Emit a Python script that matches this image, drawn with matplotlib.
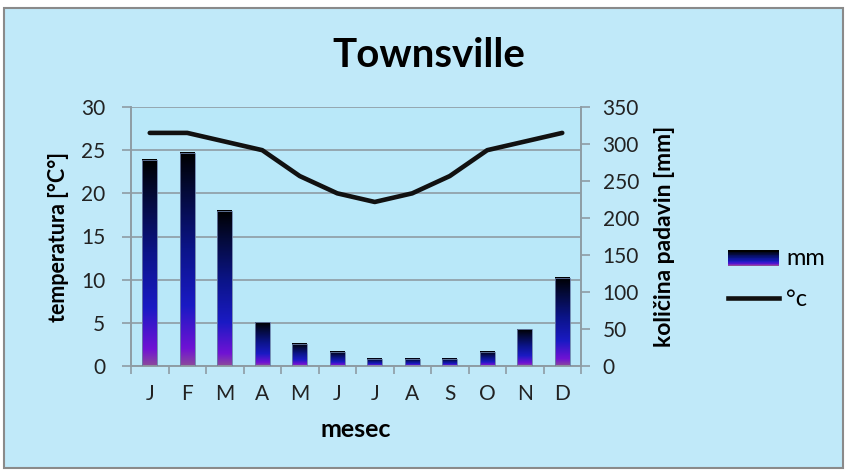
import numpy as np
import matplotlib
matplotlib.use("Agg")
import matplotlib.pyplot as plt
from matplotlib.colors import LinearSegmentedColormap
from matplotlib.patches import Rectangle
from matplotlib.lines import Line2D
from matplotlib.legend_handler import HandlerBase

plt.rcParams['font.family'] = ['Lato', 'DejaVu Sans']

# podatki
months = ['J', 'F', 'M', 'A', 'M', 'J', 'J', 'A', 'S', 'O', 'N', 'D']
temp_c = [27, 27, 26, 25, 22, 20, 19, 20, 22, 25, 26, 27]
rain_mm = [279, 288, 210, 59, 30, 19, 10, 10, 10, 19, 50, 119]
temp_ticks = [0, 5, 10, 15, 20, 25, 30]
rain_ticks = [0, 50, 100, 150, 200, 250, 300, 350]

bar_cmap = LinearSegmentedColormap.from_list('bar', [
    (0.0, '#8c4a9c'), (0.08, '#7012d4'), (0.28, '#1a1ac4'),
    (0.55, '#0b1488'), (0.82, '#040a38'), (1.0, '#000000')])

bg = '#c0e9f9'
grid_col = '#8e9ca4'
txt = '#222222'

class GradientHandler(HandlerBase):
    # legenda - stolpec z gradientom
    def create_artists(self, legend, orig, xd, yd, w, h, fontsize, trans):
        arts = []
        n = 20
        for i in range(n):
            r = Rectangle((xd, yd + i * h / n), w, h / n + 0.3,
                          facecolor=bar_cmap(i / (n - 1)), edgecolor='none',
                          transform=trans)
            arts.append(r)
        return arts

fig = plt.figure(figsize=(8.46, 4.70), dpi=100)
fig.patch.set_facecolor('white')
fig.add_artist(Rectangle((4 / 846, 2 / 470), 839 / 846, 460 / 470,
                         transform=fig.transFigure, facecolor=bg,
                         edgecolor='#8a8a8a', linewidth=1.5, zorder=0))

ax = fig.add_axes([131 / 846, 1 - 366 / 470, 450 / 846, 259 / 470])
ax.set_facecolor('#b9e8f9')
x = np.arange(len(months))
ax.set_xlim(-0.5, len(months) - 0.5)
ax.set_ylim(0, 30)
ax.set_yticks(temp_ticks)
ax.grid(axis='y', color=grid_col, linewidth=1.2)
ax.set_axisbelow(True)

ax2 = ax.twinx()
ax2.set_ylim(0, 350)
ax2.set_yticks(rain_ticks)
w = 0.39
for xi, v in zip(x, rain_mm):
    grad = np.linspace(0, 1, 256).reshape(-1, 1)
    ax2.imshow(grad, extent=(xi - w / 2, xi + w / 2, 0, v), origin='lower',
               cmap=bar_cmap, aspect='auto', zorder=2)
    ax2.add_patch(Rectangle((xi - w / 2, 0), w, v, facecolor='none',
                            edgecolor='#6a7fa8', linewidth=0.6, zorder=3))
ax2.set_xlim(-0.5, len(months) - 0.5)
ax2.set_ylim(0, 350)

ax3 = ax.twinx()
ax3.set_ylim(0, 30)
ax3.plot(x, temp_c, color='#111111', linewidth=3.3, solid_capstyle='round',
         solid_joinstyle='round')
ax3.axis('off')
ax3.set_xlim(-0.5, len(months) - 0.5)

for a in (ax, ax2):
    for s in a.spines.values():
        s.set_color(grid_col)
        s.set_linewidth(1.2)
ax.spines['top'].set_visible(False)
ax2.spines['top'].set_visible(False)

ax.set_xticks(x)
ax.set_xticklabels(months, fontsize=15, color=txt)
ax.set_xticks(np.arange(-0.5, len(months)), minor=True)
ax.tick_params(axis='x', which='major', length=0, pad=13)
ax.tick_params(axis='x', which='minor', length=6, color=grid_col, width=1.2)
ax.tick_params(axis='y', length=6.5, color=grid_col, width=1.2, labelsize=15,
               labelcolor=txt, pad=12)
ax2.tick_params(axis='y', length=6.5, color=grid_col, width=1.2, labelsize=15,
                labelcolor=txt, pad=9)

ax.set_ylabel('temperatura [°C°]', fontsize=15.5, fontweight='bold', labelpad=9)
ax2.set_ylabel('količina padavin [mm]', fontsize=16.5, fontweight='bold',
               labelpad=11)
ax.set_xlabel('mesec', fontsize=18, fontweight='bold', labelpad=10)

fig.text(429 / 846, 1 - 67 / 470, 'Townsville', ha='center', va='baseline',
         fontsize=29, fontweight='bold')

handles = [Rectangle((0, 0), 1, 1), Line2D([], [], color='#111111', linewidth=3.3)]
fig.legend(handles, ['mm', '°c'], loc='center left',
           bbox_to_anchor=(728 / 846, 1 - 279 / 470), frameon=False,
           fontsize=17, handlelength=2.16, handleheight=0.6, labelspacing=0.85,
           handletextpad=0.3, borderpad=0, borderaxespad=0,
           handler_map={Rectangle: GradientHandler()})

fig.savefig('out.png', dpi=100, facecolor='white')
